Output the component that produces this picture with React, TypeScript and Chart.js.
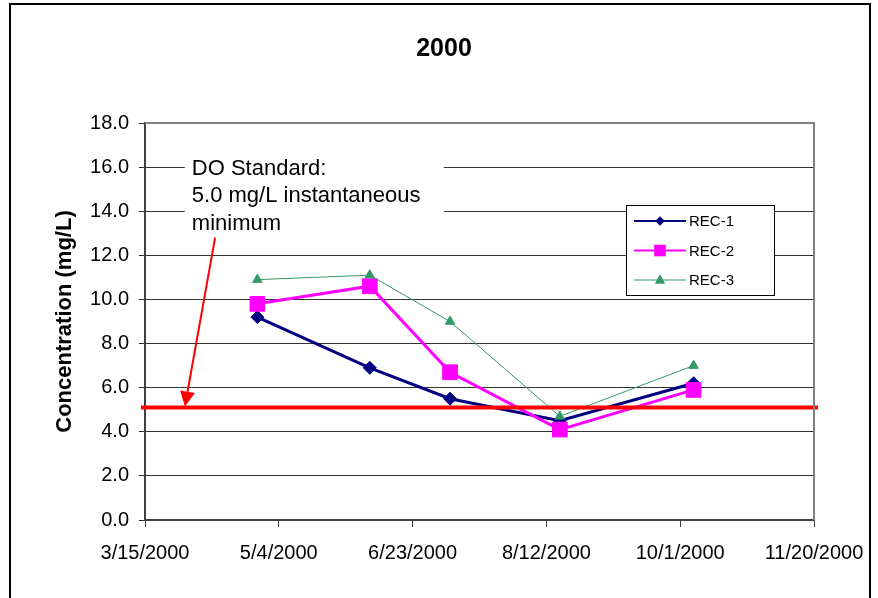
import React, { useEffect, useRef } from 'react';
import { Chart, registerables } from 'chart.js';

Chart.register(...registerables);

// ---------- data ----------
const START_DATE = '3/15/2000';
const SAMPLE_DATES = ['4/26/2000', '6/7/2000', '7/7/2000', '8/17/2000', '10/6/2000'];
const SERIES_NAMES = ['REC-1', 'REC-2', 'REC-3'];
const REC1 = [9.2, 6.9, 5.5, 4.5, 6.2];
const REC2 = [9.8, 10.6, 6.7, 4.1, 5.9];
const REC3 = [10.9, 11.1, 9.0, 4.7, 7.0];
const DO_STANDARD = 5.1;
const X_MIN_DAYS = 0;
const X_MAX_DAYS = 250;
const X_STEP_DAYS = 50;
const Y_MIN = 0;
const Y_MAX = 18;
const Y_STEP = 2;
const TITLE = '2000';
const Y_TITLE = 'Concentration (mg/L)';
const NOTE_LINES = ['DO Standard:', '5.0 mg/L instantaneous', 'minimum'];

// ---------- helpers ----------
const FONT = "'Liberation Sans', Arial, Helvetica, sans-serif";
const DAY_MS = 86400000;
const parseUS = (s: string) => {
  const [m, d, y] = s.split('/').map(Number);
  return Date.UTC(y, m - 1, d);
};
const START_MS = parseUS(START_DATE);
const dayOffset = (s: string) => Math.round((parseUS(s) - START_MS) / DAY_MS);
const fmtDay = (v: number) => {
  const dt = new Date(START_MS + v * DAY_MS);
  return `${dt.getUTCMonth() + 1}/${dt.getUTCDate()}/${dt.getUTCFullYear()}`;
};
const toPoints = (vals: number[]) => SAMPLE_DATES.map((d, i) => ({ x: dayOffset(d), y: vals[i] }));

const COLORS = ['#000080', '#FF00FF', '#339966'];

function drawMarker(ctx: CanvasRenderingContext2D, kind: string, cx: number, cy: number, r: number, color: string) {
  ctx.save();
  ctx.fillStyle = color;
  ctx.beginPath();
  if (kind === 'diamond') {
    ctx.moveTo(cx, cy - r);
    ctx.lineTo(cx + r, cy);
    ctx.lineTo(cx, cy + r);
    ctx.lineTo(cx - r, cy);
  } else if (kind === 'square') {
    ctx.rect(cx - r, cy - r, 2 * r, 2 * r);
  } else {
    const h = r * 1.8;
    ctx.moveTo(cx, cy - h / 2 - 1);
    ctx.lineTo(cx + r, cy + h / 2 - 1);
    ctx.lineTo(cx - r, cy + h / 2 - 1);
  }
  ctx.closePath();
  ctx.fill();
  ctx.restore();
}

const decorPlugin = {
  id: 'decor',
  beforeDatasetsDraw(chart: any) {
    const { ctx, scales } = chart;
    const x = scales.x;
    const y = scales.y;
    // annotation text on white background
    const nx = x.getPixelForValue(17.5);
    const ny = y.getPixelForValue(15.65);
    ctx.save();
    ctx.fillStyle = '#fff';
    ctx.fillRect(nx - 7, ny - 27, 259, 89);
    ctx.fillStyle = '#000';
    ctx.font = `22px ${FONT}`;
    ctx.textAlign = 'left';
    ctx.textBaseline = 'alphabetic';
    NOTE_LINES.forEach((t, i) => ctx.fillText(t, nx, ny + i * 27.5));
    ctx.restore();
  },
  afterDatasetsDraw(chart: any) {
    const { ctx, scales } = chart;
    const x = scales.x;
    const y = scales.y;
    // arrow
    const x0 = x.getPixelForValue(26.2);
    const y0 = y.getPixelForValue(12.8);
    const x1 = x.getPixelForValue(14.9);
    const y1 = y.getPixelForValue(DO_STANDARD) - 1;
    const ang = Math.atan2(y1 - y0, x1 - x0);
    const len = 15;
    const hw = 7.5;
    const bx = x1 - len * Math.cos(ang);
    const by = y1 - len * Math.sin(ang);
    ctx.save();
    ctx.strokeStyle = '#FF0000';
    ctx.fillStyle = '#FF0000';
    ctx.lineWidth = 2;
    ctx.beginPath();
    ctx.moveTo(x0, y0);
    ctx.lineTo(bx, by);
    ctx.stroke();
    ctx.beginPath();
    ctx.moveTo(x1, y1);
    ctx.lineTo(bx + hw * Math.sin(ang), by - hw * Math.cos(ang));
    ctx.lineTo(bx - hw * Math.sin(ang), by + hw * Math.cos(ang));
    ctx.closePath();
    ctx.fill();
    ctx.restore();
  },
  afterDraw(chart: any) {
    const { ctx, chartArea: a } = chart;
    ctx.save();
    // plot frame (top / right)
    ctx.strokeStyle = '#808080';
    ctx.lineWidth = 2;
    ctx.beginPath();
    ctx.moveTo(a.left, a.top);
    ctx.lineTo(a.right, a.top);
    ctx.lineTo(a.right, a.bottom);
    ctx.stroke();

    // title
    ctx.fillStyle = '#000';
    ctx.font = `bold 25px ${FONT}`;
    ctx.textAlign = 'center';
    ctx.textBaseline = 'middle';
    ctx.fillText(TITLE, 444, 49);

    // legend
    const lx = a.left + (a.right - a.left) * 0.719;
    const ly = a.top + 82;
    const lw = 148;
    const lh = 90;
    ctx.fillStyle = '#fff';
    ctx.fillRect(lx, ly, lw, lh);
    ctx.strokeStyle = '#000';
    ctx.lineWidth = 1;
    ctx.strokeRect(Math.round(lx) + 0.5, Math.round(ly) + 0.5, lw, lh);
    const kinds = ['diamond', 'square', 'triangle'];
    const radii = [4.8, 5.8, 5.2];
    const widths = [2, 2, 1];
    ctx.font = `15px ${FONT}`;
    ctx.textAlign = 'left';
    ctx.textBaseline = 'middle';
    SERIES_NAMES.forEach((name, i) => {
      const cy = ly + 16 + i * 29.5;
      ctx.strokeStyle = COLORS[i];
      ctx.lineWidth = widths[i];
      ctx.beginPath();
      ctx.moveTo(lx + 8, cy);
      ctx.lineTo(lx + 60, cy);
      ctx.stroke();
      drawMarker(ctx, kinds[i], lx + 34, cy, radii[i], COLORS[i]);
      ctx.fillStyle = '#000';
      ctx.fillText(name, lx + 63, cy + 1);
    });
    ctx.restore();
  },
};

export default function App() {
  const ref = useRef<HTMLCanvasElement>(null);

  useEffect(() => {
    const canvas = ref.current;
    if (!canvas) return;
    Chart.defaults.font.family = FONT;
    Chart.defaults.color = '#000';
    const chart = new Chart(canvas, {
      type: 'line',
      data: {
        datasets: [
          {
            label: SERIES_NAMES[0],
            data: toPoints(REC1),
            borderColor: COLORS[0],
            backgroundColor: COLORS[0],
            pointBackgroundColor: COLORS[0],
            pointBorderColor: COLORS[0],
            borderWidth: 3,
            pointStyle: 'rectRot',
            pointRadius: 6.5,
            pointBorderWidth: 1,
            tension: 0,
            order: 2,
          },
          {
            label: SERIES_NAMES[1],
            data: toPoints(REC2),
            borderColor: COLORS[1],
            backgroundColor: COLORS[1],
            pointBackgroundColor: COLORS[1],
            pointBorderColor: COLORS[1],
            borderWidth: 3,
            pointStyle: 'rect',
            pointRadius: 10.4,
            pointBorderWidth: 1,
            tension: 0,
            order: 1,
          },
          {
            label: SERIES_NAMES[2],
            data: toPoints(REC3),
            borderColor: COLORS[2],
            backgroundColor: COLORS[2],
            pointBackgroundColor: COLORS[2],
            pointBorderColor: COLORS[2],
            borderWidth: 1,
            pointStyle: 'triangle',
            pointRadius: 5.5,
            pointBorderWidth: 1,
            tension: 0,
            order: 0,
          },
          {
            label: 'DO Standard',
            data: [
              { x: X_MIN_DAYS - 1.5, y: DO_STANDARD },
              { x: X_MAX_DAYS + 1.5, y: DO_STANDARD },
            ],
            borderColor: '#FF0000',
            backgroundColor: '#FF0000',
            borderWidth: 4,
            pointRadius: 0,
            tension: 0,
            order: -1,
            clip: false as any,
          },
        ],
      },
      options: {
        responsive: false,
        maintainAspectRatio: false,
        devicePixelRatio: 1,
        animation: false,
        events: [],
        layout: { padding: { left: 0, top: 123, right: 64, bottom: 0 } },
        plugins: {
          legend: { display: false },
          title: { display: false },
          tooltip: { enabled: false },
        },
        scales: {
          x: {
            type: 'linear',
            min: X_MIN_DAYS,
            max: X_MAX_DAYS,
            afterFit: (s: any) => {
              s.height = 78;
            },
            ticks: {
              stepSize: X_STEP_DAYS,
              autoSkip: false,
              maxRotation: 0,
              minRotation: 0,
              padding: 14,
              font: { size: 20, family: FONT },
              color: '#000',
              callback: (v: any) => fmtDay(Number(v)),
            },
            grid: {
              drawOnChartArea: false,
              drawTicks: true,
              tickLength: 7,
              color: '#404040',
              lineWidth: 1,
            },
            border: { display: true, color: '#404040', width: 2 },
          },
          y: {
            type: 'linear',
            min: Y_MIN,
            max: Y_MAX,
            afterFit: (s: any) => {
              s.width = 145;
            },
            title: {
              display: true,
              text: Y_TITLE,
              font: { size: 22, weight: 'bold', family: FONT },
              color: '#000',
              padding: { top: 52, bottom: 0 },
            },
            ticks: {
              stepSize: Y_STEP,
              padding: 10,
              font: { size: 20, family: FONT },
              color: '#000',
              callback: (v: any) => Number(v).toFixed(1),
            },
            grid: {
              color: '#333',
              lineWidth: 1,
              tickLength: 6,
              drawTicks: true,
            },
            border: { display: true, color: '#404040', width: 2 },
          },
        },
      },
      plugins: [decorPlugin],
    } as any);
    return () => chart.destroy();
  }, []);

  return (
    <div
      style={{
        position: 'fixed',
        left: 0,
        top: 0,
        width: 878,
        height: 598,
        background: '#fff',
        overflow: 'hidden',
      }}
    >
      <canvas ref={ref} width={878} height={598} style={{ display: 'block', width: 878, height: 598 }} />
      <div
        style={{
          position: 'absolute',
          left: 9,
          top: 3,
          width: 862,
          height: 700,
          border: '2px solid #000',
          boxSizing: 'border-box',
          pointerEvents: 'none',
        }}
      />
    </div>
  );
}
